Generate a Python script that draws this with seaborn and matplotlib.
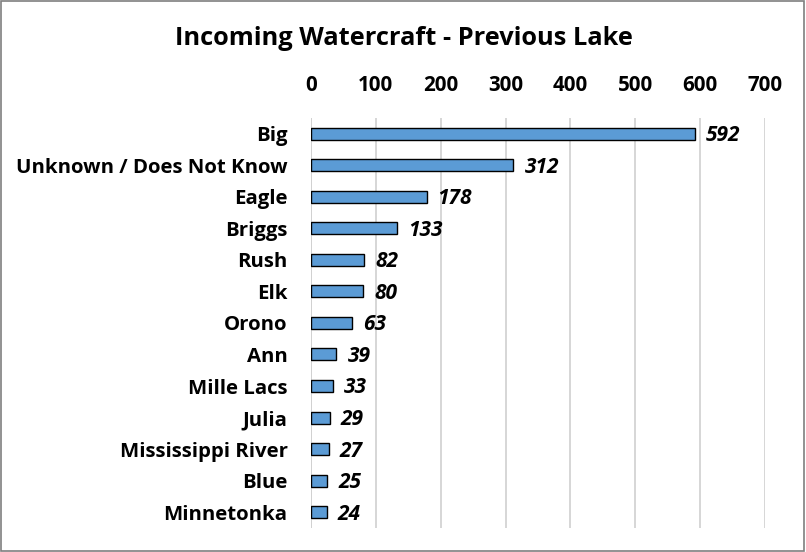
import matplotlib
matplotlib.use("Agg")
import matplotlib.pyplot as plt
import seaborn as sns
import pandas as pd
from matplotlib.patches import Rectangle

lakes = ["Big", "Unknown / Does Not Know", "Eagle", "Briggs", "Rush", "Elk", "Orono",
         "Ann", "Mille Lacs", "Julia", "Mississippi River", "Blue", "Minnetonka"]
counts = [592, 312, 178, 133, 82, 80, 63, 39, 33, 29, 27, 25, 24]
xticks = [0, 100, 200, 300, 400, 500, 600, 700]
title = "Incoming Watercraft - Previous Lake"

sns.set_theme(style="white")
plt.rcParams["font.family"] = ["Open Sans", "DejaVu Sans"]
plt.rcParams["text.color"] = "black"

df = pd.DataFrame({"lake": lakes, "count": counts})

fig = plt.figure(figsize=(8.06, 5.52), dpi=100)
ax = fig.add_axes([0.386, 0.0435, 0.563, 0.743])

sns.barplot(data=df, x="count", y="lake", ax=ax, color="#5B9BD5", saturation=1,
            width=0.38, edgecolor="black", linewidth=1.0, orient="h")

ax.set_xlim(0, 700)
ax.set_ylim(12.5, -0.5)
ax.set_xticks(xticks)
ax.xaxis.tick_top()
ax.tick_params(axis="x", length=0, pad=16, labelsize=14.8, labelcolor="black")
ax.tick_params(axis="y", length=0, pad=17, labelsize=14.7, labelcolor="black")
for lab in ax.get_xticklabels():
    lab.set_fontweight("bold")
for lab in ax.get_yticklabels():
    lab.set_fontweight("bold")
ax.set_xlabel("")
ax.set_ylabel("")
ax.grid(axis="x", color="#D0D0D0", linewidth=1.2)
ax.set_axisbelow(True)
for s in ax.spines.values():
    s.set_visible(False)
ax.axvline(0, color="#D0D0D0", linewidth=1.2, zorder=0)

for i, v in enumerate(counts):
    ax.text(v + 17, i + 0.06, str(v), va="center", ha="left", fontsize=15,
            fontweight="bold", fontstyle="italic", color="black")

fig.text(0.501, 0.93, title, ha="center", va="center", fontsize=18.3,
         fontweight="bold", color="black")
fig.patches.append(Rectangle((0.001, 0.001), 0.997, 0.997, transform=fig.transFigure,
                             fill=False, edgecolor="#7F7F7F", linewidth=1.2))

fig.savefig("out.png", dpi=100)
